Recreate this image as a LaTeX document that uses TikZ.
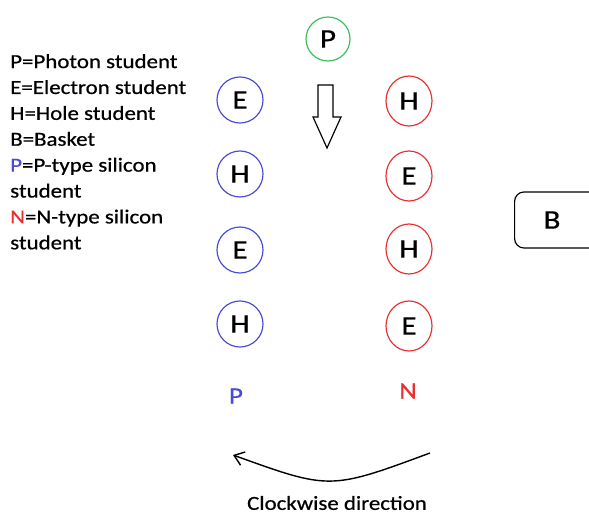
\documentclass[tikz,border=0pt]{standalone}
\usepackage{fontspec}
\setmainfont{Carlito}[FakeStretch=1.15,FakeBold=0.6]
\usetikzlibrary{arrows.meta,positioning,shapes.geometric}
\definecolor{pblue}{HTML}{4A4AD8}
\definecolor{nred}{HTML}{E83030}
\definecolor{phgreen}{HTML}{3CBF5A}

\begin{document}
\begin{tikzpicture}[x=0.03cm,y=-0.03cm,font=\fontsize{23}{26}\selectfont,
  every node/.style={align=left},
  pcirc/.style={circle,draw=pblue,line width=1pt,minimum size=46*0.03cm,inner sep=0pt},
  ncirc/.style={ellipse,draw=nred,line width=1pt,minimum width=46*0.03cm,minimum height=50*0.03cm,inner sep=0pt},
  legend/.style={font=\fontsize{17}{22.1}\selectfont,anchor=north west,inner sep=0pt}]
\useasboundingbox (0,0) rectangle (589,515);
% photon and the hollow arrow
\node[circle,draw=phgreen,line width=1pt,minimum size=44*0.03cm,inner sep=0pt] (ph) at (328,39) {P};
\draw[line width=1pt] (318,85)--(333,85)--(333,117)--(341,117)--(327,148)--(313,117)--(318,117)--cycle;
% p-type side
\node[pcirc] (pe1) at (240,100) {E};
\node[pcirc] (ph1) at (240,174) {H};
\node[pcirc] (pe2) at (240,250) {E};
\node[pcirc] (ph2) at (240,324) {H};
\node[text=pblue,font=\fontsize{20}{22}\selectfont] (ptype) at (236,396) {P};
% n-type side
\node[ncirc] (nh1) at (409,101) {H};
\node[ncirc] (ne1) at (409,176) {E};
\node[ncirc] (nh2) at (409,249) {H};
\node[ncirc] (ne2) at (409,326) {E};
\node[text=nred,font=\fontsize{20}{22}\selectfont] (ntype) at (408,391) {N};
% basket
\node[draw,line width=1pt,rounded corners=8pt,minimum width=86*0.03cm,minimum height=56*0.03cm,anchor=west] (bk) at (514,220) {};
\node (bl) at (552,220) {B};
% direction
\coordinate (cwa) at (430,453);
\coordinate (cwb) at (233,455);
\draw[line width=1.2pt,-{Straight Barb[length=8pt,width=12pt]}] (cwa) .. controls (330,490) .. (cwb);
\node[font=\fontsize{17}{20}\selectfont] (cw) at (337,503) {Clockwise direction};
% legend
\node[legend] (key) at (10,54) {P=Photon student\\E=Electron student\\H=Hole student\\B=Basket\\
  \textcolor{pblue}{P}=P-type silicon\\student\\\textcolor{nred}{N}=N-type silicon\\student};
\end{tikzpicture}
\end{document}
